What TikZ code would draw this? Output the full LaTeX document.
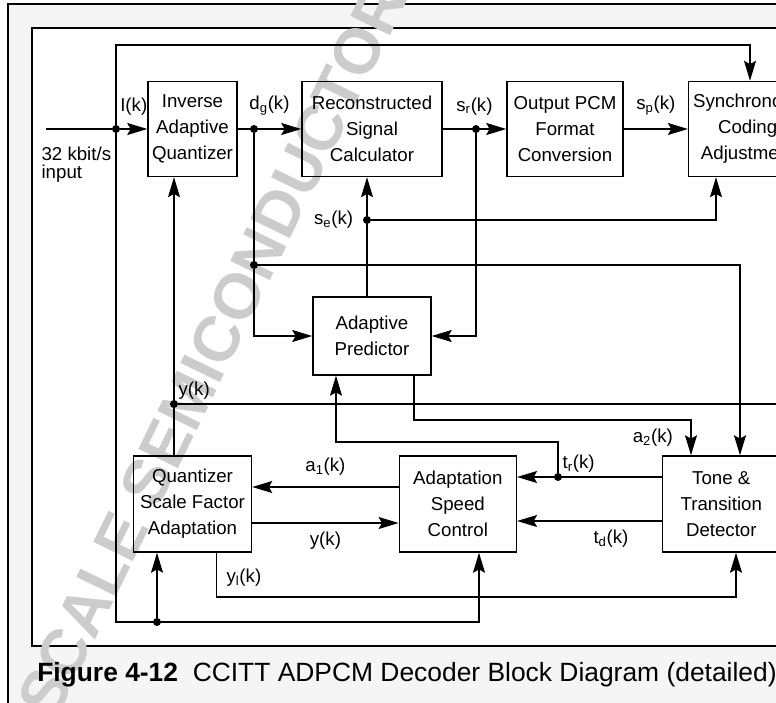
\documentclass[tikz,border=0pt]{standalone}
\usepackage{fontspec}
\setmainfont{Liberation Sans}
\usetikzlibrary{positioning, calc, arrows.meta}

\newcommand{\sk}[2]{#1\textsubscript{#2}(k)}

\begin{document}
\begin{tikzpicture}[x=0.75pt, y=-0.75pt, node distance=10pt, on grid,
    block/.style={draw, line width=1.1pt, align=center, inner sep=0pt,
      font=\fontsize{14}{19.5}\selectfont},
    dot/.style={circle, fill, inner sep=0pt, minimum size=6pt},
    lbl/.style={inner sep=1pt, font=\fontsize{14}{16}\selectfont},
    wire/.style={line width=1.1pt, -{Stealth[length=15pt, width=9pt, inset=2.5pt]}},
    line/.style={line width=1.1pt}]

    \clip (0,0) rectangle (776,703);
    % frame
    \fill[white] (0,0) rectangle (776,703);
    \draw[line width=1.9pt, fill=black!4] (8,4) rectangle (900,900);
    \draw[line width=0.8pt, fill=white] (32,28) rectangle (900,646);

    % watermark
    \node[rotate=64, text=black!20, font=\fontsize{48}{48}\selectfont\bfseries] (wm) at (212,350) {SCALE SEMICONDUCTOR};

    % blocks
    \node[block, minimum width=66.75pt, minimum height=71.25pt] (iaq) at (192.5,129) {Inverse\\Adaptive\\Quantizer};
    \node[block, minimum width=105pt, minimum height=71.25pt, right=134.6pt of iaq] (rsc) {Reconstructed\\Signal\\Calculator};
    \node[block, minimum width=87pt, minimum height=71.25pt, right=144.75pt of rsc] (opc) {Output PCM\\Format\\Conversion};
    \node[block, minimum width=88.5pt, minimum height=71.25pt, right=137pt of opc] (sca) {Synchronous\\Coding\\Adjustment};
    \node[block, minimum width=88.5pt, minimum height=58.5pt, below=155.25pt of rsc] (ap) {Adaptive\\Predictor};
    \node[block, minimum width=88.5pt, minimum height=72pt, below=281.25pt of iaq] (qsfa) {Quantizer\\Scale Factor\\Adaptation};
    \node[block, minimum width=87.75pt, minimum height=72pt, right=199pt of qsfa] (asc) {Adaptation\\Speed\\Control};
    \node[block, minimum width=88.5pt, minimum height=72pt, right=197.6pt of asc] (ttd) {Tone \&\\Transition\\Detector};

    % junctions
    \node[dot] (jI) at (116,129) {};
    \node[dot] (jdg) at (254,129) {};
    \node[dot] (jdg2) at (254,265) {};
    \node[dot] (jsr) at (476,129) {};
    \node[dot, label={[lbl, label distance=6pt]left:\sk{s}{e}}] (jse) at (367,220) {};
    \node[dot, label={[lbl]above right:y(k)}] (jy) at (174,404) {};
    \node[dot, label={[lbl]above right:\sk{t}{r}}] (jtr) at (558,477) {};
    \node[dot] (jbot) at (157,622) {};

    % bends and free ends
    \coordinate (in) at (46,129);
    \coordinate (top) at (750,45);
    \coordinate (botR) at (479,622);
    \coordinate (dgR) at (740,265);
    \coordinate (seR) at (716,220);
    \coordinate (a2R) at (691,420);
    \coordinate (trL) at (336,442);
    \coordinate (ylR) at (736,597);
    \coordinate (yR) at (800,404);

    \node[lbl, anchor=north west, align=left, font=\fontsize{14}{14}\selectfont] (inlbl) at (40,145) {32 kbit/s\\input};

    % top row
    \draw[line] (in) -- (jI);
    \draw[wire] (jI) -- node[lbl, above=9pt] {I(k)} (iaq);
    \draw[wire] (iaq) -- node[lbl, above=9pt] {\sk{d}{g}} (rsc);
    \draw[wire] (rsc) -- node[lbl, above=9pt] {\sk{s}{r}} (opc);
    \draw[wire] (opc) -- node[lbl, above=9pt] {\sk{s}{p}} (sca);
    \draw[wire] (jI) |- (top) -- (sca.north -| top);
    \draw[wire] (jI) |- (botR) -- (asc.south -| botR);
    \draw[wire] (jbot) -- (qsfa.south -| jbot);

    % predictor loop
    \draw[wire] (jdg) |- (dgR) -- (ttd.north -| dgR);
    \draw[wire] (jdg2) |- (ap.west);
    \draw[wire] (jsr) |- (ap.east);
    \draw[wire] (ap.north -| jse) -- (rsc.south -| jse);
    \draw[wire] (jse) -| (sca.south -| seR);
    \draw[wire] ($(ap.south)+(42,0)$) |- (a2R) -- node[lbl, left=12pt] {\sk{a}{2}} (ttd.north -| a2R);

    % adaptation
    \draw[wire] (qsfa.north -| jy) -- (iaq.south -| jy);
    \draw[line] (jy) -- (yR);
    \draw[wire] (ttd.west |- jtr) -- (asc.east |- jtr);
    \draw[wire] (jtr) |- (trL) -- (ap.south -| trL);
    \draw[wire] ($(asc.west)+(0,-17)$) -- node[lbl, above=7pt] {\sk{a}{1}} ($(qsfa.east)+(0,-17)$);
    \draw[wire] ($(qsfa.east)+(0,19)$) -- node[lbl, below=5pt] {y(k)} ($(asc.west)+(0,19)$);
    \draw[wire] ($(ttd.west)+(0,17)$) -- node[lbl, below=5pt, pos=0.35] {\sk{t}{d}} ($(asc.east)+(0,17)$);
    \draw[wire] ($(qsfa.south)+(24,0)$) |- node[lbl, right=6pt, pos=0.28] {\sk{y}{l}} (ylR) -- (ttd.south -| ylR);

    % caption
    \node[anchor=base west, inner sep=0pt, font=\fontsize{19.8}{20}\selectfont] (cap) at (37,681) {\textbf{Figure 4-12}\hspace{11pt}CCITT ADPCM Decoder Block Diagram (detailed)};
\end{tikzpicture}
\end{document}
